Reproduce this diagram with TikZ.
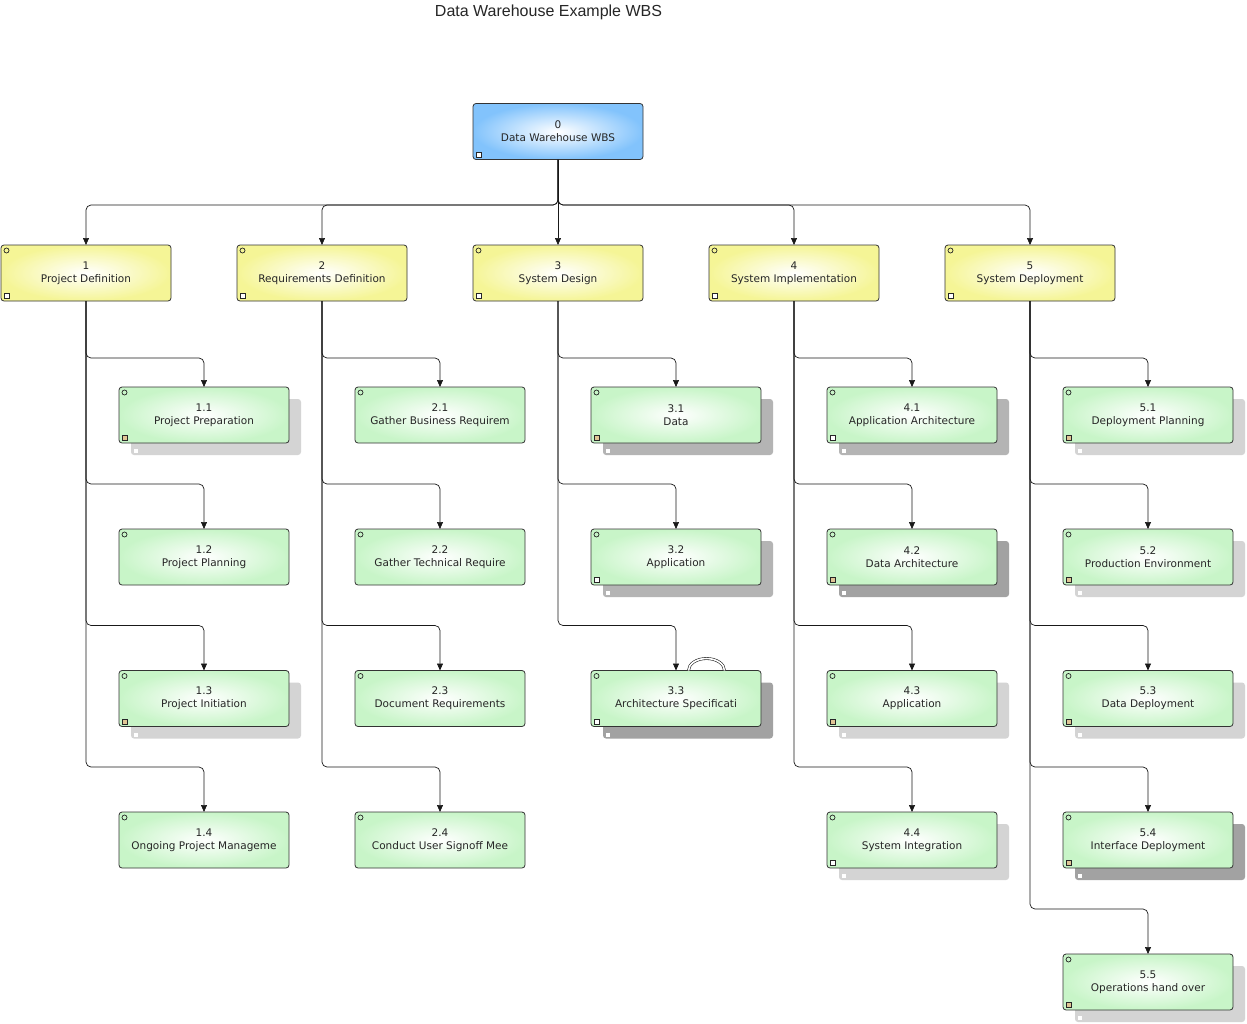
\documentclass[tikz,border=0pt]{standalone}
\usepackage{fontspec}
\usetikzlibrary{arrows.meta}
\usetikzlibrary{shadows}
\newfontfamily\boxfont{DejaVu Sans}
\newfontfamily\headfont{Liberation Sans}
\definecolor{rootblue}{RGB}{130,195,252}
\definecolor{phaseyellow}{RGB}{245,245,150}
\definecolor{taskgreen}{RGB}{200,245,200}
\definecolor{markertan}{RGB}{225,198,150}
\definecolor{shlight}{RGB}{212,212,212}
\definecolor{shmid}{RGB}{180,180,180}
\definecolor{shdark}{RGB}{162,162,162}

\tikzset{
  wbsbox/.style={draw=black!80, line width=0.8pt, rectangle, rounded corners=3pt,
    minimum width=170pt, minimum height=56pt, inner sep=0pt, outer sep=0pt,
    align=center, font=\boxfont\fontsize{10.5}{13}\selectfont, text=black!85,
    inner color=white},
  circmark/.style={path picture={
    \draw[draw=black!85, line width=0.7pt] ([shift={(5.5pt,-5.5pt)}]path picture bounding box.north west) circle (2.5pt);}},
  sqmark/.style={path picture={
    \draw[draw=black!85, line width=0.7pt, sharp corners, fill=#1] ([shift={(3pt,2.5pt)}]path picture bounding box.south west) rectangle ++(5pt,5pt);}},
  docmark/.style={path picture={
    \draw[draw=black!85, line width=0.7pt] ([shift={(5.5pt,-5.5pt)}]path picture bounding box.north west) circle (2.5pt);
    \draw[draw=black!85, line width=0.7pt, sharp corners, fill=#1] ([shift={(3pt,2.5pt)}]path picture bounding box.south west) rectangle ++(5pt,5pt);}},
  rootbox/.style={wbsbox, outer color=rootblue, sqmark=white},
  phasebox/.style={wbsbox, outer color=phaseyellow, docmark=white},
  taskbox/.style={wbsbox, outer color=taskgreen, circmark},
  shad/.style={drop shadow={shadow xshift=12pt, shadow yshift=-12pt, fill=#1, opacity=1}},
  link/.style={draw=black!90, line width=0.7pt, rounded corners=5pt, -{Triangle[length=7pt,width=6pt]}}
}

\begin{document}
\begin{tikzpicture}[x=1pt, y=-1pt]
  \fill[white] (0,0) rectangle (1247,1023);
  \useasboundingbox (0,0) rectangle (1247,1023);

  % title
  \node[font=\headfont\fontsize{16}{19}\selectfont, text=black!85, anchor=base] (title) at (548.5,16.5) {Data Warehouse Example WBS};

  % root and phases
  \node[rootbox] (wbs) at (558,131.5) {0\\Data Warehouse WBS};
  \node[phasebox] (p1) at (86,273) {1\\Project Definition};
  \node[phasebox] (p2) at (322,273) {2\\Requirements Definition};
  \node[phasebox] (p3) at (558,273) {3\\System Design};
  \node[phasebox] (p4) at (794,273) {4\\System Implementation};
  \node[phasebox] (p5) at (1030,273) {5\\System Deployment};

  % work packages
  \node[taskbox, docmark=markertan, shad=shlight] (p11) at (204,415) {1.1\\Project Preparation};
  \node[taskbox] (p12) at (204,557) {1.2\\Project Planning};
  \node[taskbox, docmark=markertan, shad=shlight] (p13) at (204,698.5) {1.3\\Project Initiation};
  \node[taskbox] (p14) at (204,840) {1.4\\Ongoing Project Manageme};

  \node[taskbox] (p21) at (440,415) {2.1\\Gather Business Requirem};
  \node[taskbox] (p22) at (440,557) {2.2\\Gather Technical Require};
  \node[taskbox] (p23) at (440,698.5) {2.3\\Document Requirements};
  \node[taskbox] (p24) at (440,840) {2.4\\Conduct User Signoff Mee};

  \node[taskbox, docmark=markertan, shad=shmid] (p31) at (676,415) {3.1\\Data};
  \node[taskbox, docmark=white, shad=shmid] (p32) at (676,557) {3.2\\Application};
  \node[taskbox, docmark=white, shad=shdark] (p33) at (676,698.5) {3.3\\Architecture Specificati};

  \node[taskbox, docmark=white, shad=shmid] (p41) at (912,415) {4.1\\Application Architecture};
  \node[taskbox, docmark=markertan, shad=shdark] (p42) at (912,557) {4.2\\Data Architecture};
  \node[taskbox, docmark=markertan, shad=shlight] (p43) at (912,698.5) {4.3\\Application};
  \node[taskbox, docmark=white, shad=shlight] (p44) at (912,840) {4.4\\System Integration};

  \node[taskbox, docmark=markertan, shad=shlight] (p51) at (1148,415) {5.1\\Deployment Planning};
  \node[taskbox, docmark=markertan, shad=shlight] (p52) at (1148,557) {5.2\\Production Environment};
  \node[taskbox, docmark=markertan, shad=shlight] (p53) at (1148,698.5) {5.3\\Data Deployment};
  \node[taskbox, docmark=markertan, shad=shdark] (p54) at (1148,840) {5.4\\Interface Deployment};
  \node[taskbox, docmark=markertan, shad=shlight] (p55) at (1148,982) {5.5\\Operations hand over};

  % little squares in the shadows
  \foreach \n in {p11,p13,p31,p32,p33,p41,p42,p43,p44,p51,p52,p53,p54,p55}
    \fill[white] ([shift={(15pt,-10pt)}]\n.south west) rectangle ++(4pt,4pt);

  % loop mark on 3.3
  \draw[draw=black!85, line width=0.6pt, double=white, double distance=1.6pt]
    ([xshift=30.5pt]p33.north) ++(-18pt,0pt) arc[start angle=180, end angle=0, x radius=18pt, y radius=12pt];

  % connectors
  \draw[link] (wbs.south) -- (p3.north);
  \foreach \i in {1,2,4,5}
    \draw[link] (wbs.south) |- ([yshift=40pt]p\i.north) -- (p\i.north);
  \foreach \i/\n in {1/4,2/4,3/3,4/4,5/5} {
    \draw[link] (p\i.south) |- ([yshift=29pt]p\i1.north) -- (p\i1.north);
    \foreach \j in {2,...,\n}
      \draw[link] (p\i.south) |- ([yshift=45pt]p\i\j.north) -- (p\i\j.north);
  }
\end{tikzpicture}
\end{document}
